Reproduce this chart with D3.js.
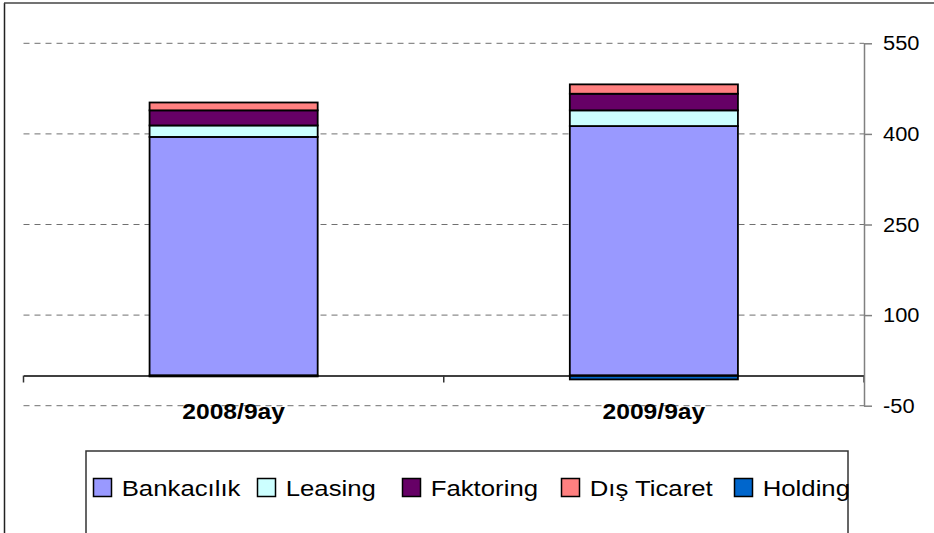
<!DOCTYPE html>
<html>
<head>
<meta charset="utf-8">
<script src="https://cdn.jsdelivr.net/npm/d3@7"></script>
<style>
  html, body { margin: 0; padding: 0; background: #fff; }
  svg { display: block; }
  text { font-family: "Liberation Sans", Arial, sans-serif; fill: #000; }
</style>
</head>
<body>
<svg id="chart" width="934" height="533"></svg>
<script>
// ---- data ----
const categories = ["2008/9ay", "2009/9ay"];
const seriesNames = ["Bankacılık", "Leasing", "Faktoring", "Dış Ticaret", "Holding"];
const bankacilik = [395, 413];
const leasing = [19, 26];
const faktoring = [25, 27.5];
const disTicaret = [13, 15.5];
const holding = [-1.5, -6.5];
const yTickValues = [-50, 100, 250, 400, 550];

// ---- styles / layout ----
const colors = ["#9999FF", "#CCFFFF", "#660066", "#FF8080", "#0066CC"];
const sx = 1.12; // horizontal stretch of text in the reference
const plot = { left: 23.5, right: 864, top: 43.3, bottom: 405.7 };
const legendX = [93, 257, 402, 561, 734];

const svg = d3.select("#chart");

const seriesValues = [bankacilik, leasing, faktoring, disTicaret, holding];
const table = categories.map((c, i) => {
  const row = { category: c };
  seriesNames.forEach((s, j) => row[s] = seriesValues[j][i]);
  return row;
});

const x = d3.scaleBand().domain(categories).range([plot.left, plot.right]).padding(0);
const y = d3.scaleLinear().domain([-50, 550]).range([plot.bottom, plot.top]);

const stack = d3.stack().keys(seriesNames).offset(d3.stackOffsetDiverging);
const stacked = stack(table);

// outer chart border (left + top)
svg.append("line").attr("x1", 4.5).attr("x2", 4.5).attr("y1", 3).attr("y2", 533)
  .attr("stroke", "#222").attr("stroke-width", 1.5);
svg.append("line").attr("x1", 4).attr("x2", 934).attr("y1", 3).attr("y2", 3)
  .attr("stroke", "#444").attr("stroke-width", 1.5);

// gridlines
svg.append("g").selectAll("line").data(yTickValues).join("line")
  .attr("x1", plot.left).attr("x2", plot.right)
  .attr("y1", d => y(d)).attr("y2", d => y(d))
  .attr("stroke", "#707070").attr("stroke-width", 1)
  .attr("stroke-dasharray", "6,5");

// bars
const barW = x.bandwidth() * 0.4;
svg.append("g").selectAll("g").data(stacked).join("g")
  .attr("fill", (d, i) => colors[i])
  .selectAll("rect").data(d => d).join("rect")
  .attr("x", d => x(d.data.category) + (x.bandwidth() - barW) / 2)
  .attr("width", barW)
  .attr("y", d => y(Math.max(d[0], d[1])))
  .attr("height", d => Math.abs(y(d[0]) - y(d[1])))
  .attr("stroke", "#000").attr("stroke-width", 1.8);

// x axis (zero line) with category ticks
const xAxis = d3.axisBottom(x).tickSize(0).tickFormat("");
const xg = svg.append("g").attr("transform", `translate(0,${y(0)})`).call(xAxis);
xg.select(".domain").attr("stroke", "#000").attr("stroke-width", 1.5);
const boundaries = [plot.left].concat(categories.map(c => x(c) + x.bandwidth()));
xg.selectAll(".bnd").data(boundaries).join("line").attr("class", "bnd")
  .attr("x1", d => d).attr("x2", d => d).attr("y1", 0).attr("y2", 7)
  .attr("stroke", "#333").attr("stroke-width", 1.5);

// category labels
categories.forEach(c => {
  svg.append("g")
    .attr("transform", `translate(${x(c) + x.bandwidth() / 2},419) scale(${sx},1)`)
    .append("text").attr("text-anchor", "middle")
    .attr("font-size", 22).attr("font-weight", "bold").text(c);
});

// right y axis
const yAxis = d3.axisRight(y).tickValues(yTickValues).tickSize(8).tickSizeOuter(0).tickFormat("");
const yg = svg.append("g").attr("transform", `translate(${plot.right},0)`).call(yAxis);
yg.select(".domain").attr("stroke", "#808080").attr("stroke-width", 1.5);
yg.selectAll(".tick line").attr("stroke", "#808080").attr("stroke-width", 1.5);
yTickValues.forEach(v => {
  svg.append("g")
    .attr("transform", `translate(883,${y(v) + 7}) scale(${sx},1)`)
    .append("text").attr("font-size", 19.5).text(String(v));
});

// legend
svg.append("rect").attr("x", 86).attr("y", 451).attr("width", 762).attr("height", 130)
  .attr("fill", "none").attr("stroke", "#333").attr("stroke-width", 1.5);
seriesNames.forEach((s, i) => {
  svg.append("rect").attr("x", legendX[i] + 0.5).attr("y", 478.5)
    .attr("width", 18).attr("height", 18)
    .attr("fill", colors[i]).attr("stroke", "#000").attr("stroke-width", 1.5);
  svg.append("g")
    .attr("transform", `translate(${legendX[i] + 28.7},495.5) scale(${sx},1)`)
    .append("text").attr("font-size", 23).text(s);
});
</script>
</body>
</html>
